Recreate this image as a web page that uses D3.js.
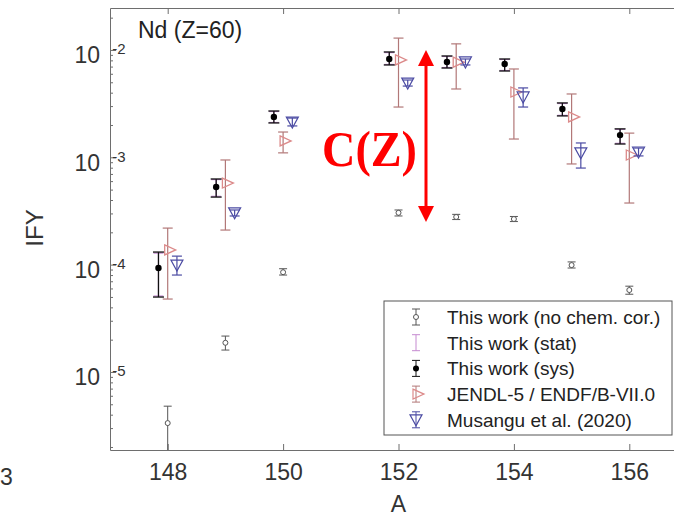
<!DOCTYPE html>
<html>
<head>
<meta charset="utf-8">
<script src="https://cdn.jsdelivr.net/npm/d3@7"></script>
<style>
  body { margin: 0; background: #fff; }
  svg { display: block; font-family: "Liberation Sans", Arial, sans-serif; }
</style>
</head>
<body>
<div id="chart"></div>
<script>
// mass numbers (A) for Nd, Z=60 (no point at A=151)
const massNumbers = [148, 149, 150, 152, 153, 154, 155, 156]

// This work, no chemical correction
const noChemY  = [3.34e-6, 1.87e-5, 8.5e-5, 3.04e-4, 2.78e-4, 2.66e-4, 9.9e-5, 5.8e-5]
const noChemHi = [4.8e-6, 2.16e-5, 9.16e-5, 3.23e-4, 2.94e-4, 2.81e-4, 1.06e-4, 6.3e-5]
const noChemLo = [1.5e-6, 1.6e-5, 8.0e-5, 2.84e-4, 2.63e-4, 2.52e-4, 9.3e-5, 5.3e-5]

// This work (chem. corrected) with sys and stat error bars
const workY     = [9.3e-5, 5.28e-4, 2.38e-3, 8.24e-3, 7.73e-3, 7.41e-3, 2.82e-3, 1.61e-3]
const workSysHi = [1.31e-4, 6.28e-4, 2.70e-3, 9.58e-3, 8.79e-3, 8.24e-3, 3.21e-3, 1.84e-3]
const workSysLo = [4.99e-5, 4.26e-4, 2.09e-3, 7.25e-3, 6.79e-3, 6.37e-3, 2.43e-3, 1.33e-3]
const workStatHi = [1.28e-4, 6.2e-4, 2.67e-3, 9.45e-3, 8.7e-3, 8.15e-3, 3.17e-3, 1.82e-3]
const workStatLo = [5.1e-5, 4.33e-4, 2.11e-3, 7.33e-3, 6.86e-3, 6.44e-3, 2.46e-3, 1.35e-3]

// JENDL-5 / ENDF/B-VII.0
const jendlY  = [1.37e-4, 5.75e-4, 1.42e-3, 8.07e-3, 7.7e-3, 4.06e-3, 2.38e-3, 1.05e-3]
const jendlHi = [2.19e-4, 9.44e-4, 1.72e-3, 1.29e-2, 1.14e-2, 6.65e-3, 3.89e-3, 1.68e-3]
const jendlLo = [4.78e-5, 2.10e-4, 1.10e-3, 2.94e-3, 4.33e-3, 1.48e-3, 8.67e-4, 3.75e-4]

// Musangu et al. (2020)
const musY  = [9.9e-5, 3.04e-4, 2.13e-3, 4.92e-3, 7.73e-3, 3.65e-3, 1.10e-3, 1.12e-3]
const musHi = [1.20e-4, 3.23e-4, 2.32e-3, 5.25e-3, 8.24e-3, 4.43e-3, 1.36e-3, 1.22e-3]
const musLo = [8.0e-5, 2.84e-4, 1.96e-3, 4.61e-3, 7.25e-3, 2.94e-3, 7.94e-4, 1.03e-3]

const xTicks = [148, 150, 152, 154, 156]
const yTicks = [1e-5, 1e-4, 1e-3, 1e-2]
const yTickExp = ["-5", "-4", "-3", "-2"]

const legendLabels = [
	"This work (no chem. cor.)",
	"This work (stat)",
	"This work (sys)",
	"JENDL-5 / ENDF/B-VII.0",
	"Musangu et al. (2020)"
]

const W = 674, H = 518
const PLOT = { LEFT: 110, TOP: 8, BOTTOM: 450, RIGHT: 687 }
const AXIS_COL = "#6e6e6e"
const COL = { nochem: "#555", stat: "#c58ad0", sys: "#111", jendlBar: "#b27878", jendlMk: "#dc8a8a", mus: "#4b4ba3" }

const svg = d3.select("#chart").append("svg")
	.attr("width", W)
	.attr("height", H)

const x = d3.scaleLinear().domain([147, 157]).range([PLOT.LEFT, PLOT.RIGHT])
const y = d3.scaleLog().domain([Math.pow(10, -5.727), Math.pow(10, -1.609)]).range([PLOT.BOTTOM, PLOT.TOP])

svg.append("clipPath").attr("id", "plotclip")
	.append("rect")
		.attr("x", PLOT.LEFT).attr("y", PLOT.TOP)
		.attr("width", PLOT.RIGHT - PLOT.LEFT).attr("height", PLOT.BOTTOM - PLOT.TOP)

// axes
const bottomAxis = svg.append("g")
	.attr("transform", `translate(0, ${PLOT.BOTTOM})`)
	.call(d3.axisBottom(x).tickValues(xTicks).tickSizeInner(-6).tickSizeOuter(0).tickPadding(14))
const topAxis = svg.append("g")
	.attr("transform", `translate(0, ${PLOT.TOP})`)
	.call(d3.axisTop(x).tickValues(xTicks).tickSizeInner(-6).tickSizeOuter(0).tickFormat(""))

// minor log ticks
const minorTicks = []
for (let e = -6; e <= -2; e++) {
	for (let m = 2; m <= 9; m++) {
		const v = m * Math.pow(10, e)
		if (v > y.domain()[0] && v < y.domain()[1]) minorTicks.push(v)
	}
}
svg.append("g")
	.attr("transform", `translate(${PLOT.LEFT}, 0)`)
	.call(d3.axisLeft(y).tickValues(minorTicks).tickSizeInner(-3).tickSizeOuter(0).tickFormat(""))
	.select(".domain").remove()

const leftAxis = svg.append("g")
	.attr("transform", `translate(${PLOT.LEFT}, 0)`)
	.call(d3.axisLeft(y).tickValues(yTicks).tickSizeInner(-6).tickSizeOuter(0).tickFormat(""))

svg.selectAll(".domain, .tick line").attr("stroke", AXIS_COL)

bottomAxis.selectAll("text")
	.attr("font-size", 23)
	.attr("fill", "#333")
	.attr("font-family", "Liberation Sans, Arial, sans-serif")

// y labels as 10^n
leftAxis.selectAll(".tick").each(function(d, i) {
	const t = d3.select(this).append("text")
		.attr("fill", "#333")
		.attr("text-anchor", "end")
		.attr("x", -10)
		.attr("font-family", "Liberation Sans, Arial, sans-serif")
	t.append("tspan").attr("font-size", 23).attr("y", 13).text("10")
	t.append("tspan").attr("font-size", 15).attr("y", 4).text(yTickExp[i])
})

// axis titles
svg.append("text")
	.attr("x", x(152))
	.attr("y", 512)
	.attr("text-anchor", "middle")
	.attr("font-size", 23)
	.attr("fill", "#333")
	.text("A")

svg.append("text")
	.attr("transform", "translate(43, 228) rotate(-90)")
	.attr("text-anchor", "middle")
	.attr("font-size", 24)
	.attr("fill", "#333")
	.text("IFY")

// leftover tick label of neighbouring panel
svg.append("text")
	.attr("x", 0)
	.attr("y", 485)
	.attr("font-size", 23)
	.attr("fill", "#333")
	.text("3")

svg.append("text")
	.attr("x", 138)
	.attr("y", 38)
	.attr("font-size", 23)
	.attr("fill", "#222")
	.text("Nd (Z=60)")

const g = svg.append("g").attr("clip-path", "url(#plotclip)")

function errorBars(xs, lo, hi, color, capW, width) {
	const grp = g.append("g")
	grp.selectAll("line.v").data(xs).enter().append("line")
		.attr("x1", d => d).attr("x2", d => d)
		.attr("y1", (d, i) => y(lo[i])).attr("y2", (d, i) => y(hi[i]))
		.attr("stroke", color).attr("stroke-width", width)
	grp.selectAll("line.t").data(xs).enter().append("line")
		.attr("x1", d => d - capW / 2).attr("x2", d => d + capW / 2)
		.attr("y1", (d, i) => y(hi[i])).attr("y2", (d, i) => y(hi[i]))
		.attr("stroke", color).attr("stroke-width", width)
	grp.selectAll("line.b").data(xs).enter().append("line")
		.attr("x1", d => d - capW / 2).attr("x2", d => d + capW / 2)
		.attr("y1", (d, i) => y(lo[i])).attr("y2", (d, i) => y(lo[i]))
		.attr("stroke", color).attr("stroke-width", width)
}

const triRight = (cx, cy) => `M${cx - 4},${cy - 5}L${cx + 7},${cy}L${cx - 4},${cy + 5}Z`
const triDown = (cx, cy) => `M${cx - 6},${cy - 5}L${cx + 6},${cy - 5}L${cx},${cy + 6}Z`

// no chem. cor.
const xNo = massNumbers.map(a => x(a))
errorBars(xNo, noChemLo, noChemHi, COL.nochem, 8, 1)
g.selectAll("circle.nochem").data(massNumbers).enter().append("circle")
	.attr("cx", d => x(d)).attr("cy", (d, i) => y(noChemY[i]))
	.attr("r", 2.5).attr("fill", "#fff").attr("stroke", COL.nochem).attr("stroke-width", 1)

// JENDL
const xJ = massNumbers.map(a => x(a))
errorBars(xJ, jendlLo, jendlHi, COL.jendlBar, 10, 1.2)
g.selectAll("path.jendl").data(massNumbers).enter().append("path")
	.attr("d", (d, i) => triRight(x(d) + 1, y(jendlY[i])))
	.attr("fill", "none").attr("stroke", COL.jendlMk).attr("stroke-width", 1.3)

// Musangu
const xM = massNumbers.map(a => x(a + 0.16))
errorBars(xM, musLo, musHi, COL.mus, 10, 1.2)
g.selectAll("path.mus").data(massNumbers).enter().append("path")
	.attr("d", (d, i) => triDown(x(d + 0.16), y(musY[i])))
	.attr("fill", "none").attr("stroke", COL.mus).attr("stroke-width", 1.2)

// This work stat + sys
const xW = massNumbers.map(a => x(a - 0.16))
errorBars(xW, workStatLo, workStatHi, COL.stat, 10, 1.2)
errorBars(xW, workSysLo, workSysHi, COL.sys, 11, 1.3)
g.selectAll("circle.work").data(massNumbers).enter().append("circle")
	.attr("cx", d => x(d - 0.16)).attr("cy", (d, i) => y(workY[i]))
	.attr("r", 3.2).attr("fill", "#000")

// C(Z) annotation arrow between 1e-2 and ~2.5e-4
const arrowX = 426
const aTop = y(1e-2), aBot = y(2.5e-4)
svg.append("line")
	.attr("x1", arrowX).attr("x2", arrowX)
	.attr("y1", aTop + 14).attr("y2", aBot - 14)
	.attr("stroke", "#f00").attr("stroke-width", 3)
svg.append("path")
	.attr("d", `M${arrowX},${aTop}L${arrowX - 8},${aTop + 16}L${arrowX + 8},${aTop + 16}Z`)
	.attr("fill", "#f00")
svg.append("path")
	.attr("d", `M${arrowX},${aBot}L${arrowX - 8},${aBot - 16}L${arrowX + 8},${aBot - 16}Z`)
	.attr("fill", "#f00")
svg.append("text")
	.attr("x", 322)
	.attr("y", 166)
	.attr("font-family", "Liberation Serif, 'Times New Roman', serif")
	.attr("font-weight", "bold")
	.attr("font-size", 50)
	.attr("textLength", 95)
	.attr("lengthAdjust", "spacingAndGlyphs")
	.attr("fill", "#f00")
	.text("C(Z)")

// legend
const LEG = { X: 384, Y: 301, W: 288, H: 134 }
const leg = svg.append("g")
leg.append("rect")
	.attr("x", LEG.X).attr("y", LEG.Y).attr("width", LEG.W).attr("height", LEG.H)
	.attr("fill", "#fff").attr("stroke", "#555").attr("stroke-width", 1)

const rowY = i => LEG.Y + 16 + i * 25.7
const mx = 416
const legColors = [COL.nochem, COL.stat, COL.sys, COL.jendlBar, COL.mus]
legendLabels.forEach((lab, i) => {
	const cy = rowY(i)
	const c = legColors[i]
	leg.append("line").attr("x1", mx).attr("x2", mx).attr("y1", cy - 8).attr("y2", cy + 8).attr("stroke", c)
	leg.append("line").attr("x1", mx - 4).attr("x2", mx + 4).attr("y1", cy - 8).attr("y2", cy - 8).attr("stroke", c)
	leg.append("line").attr("x1", mx - 4).attr("x2", mx + 4).attr("y1", cy + 8).attr("y2", cy + 8).attr("stroke", c)
	if (i === 0) leg.append("circle").attr("cx", mx).attr("cy", cy).attr("r", 2.5).attr("fill", "#fff").attr("stroke", c)
	if (i === 2) leg.append("circle").attr("cx", mx).attr("cy", cy).attr("r", 3).attr("fill", "#000")
	if (i === 3) leg.append("path").attr("d", triRight(mx + 1, cy)).attr("fill", "none").attr("stroke", COL.jendlMk).attr("stroke-width", 1.2)
	if (i === 4) leg.append("path").attr("d", triDown(mx, cy)).attr("fill", "none").attr("stroke", c).attr("stroke-width", 1.2)
	leg.append("text")
		.attr("x", 447).attr("y", cy + 7)
		.attr("font-size", 19)
		.attr("fill", "#222")
		.text(lab)
})
</script>
</body>
</html>
